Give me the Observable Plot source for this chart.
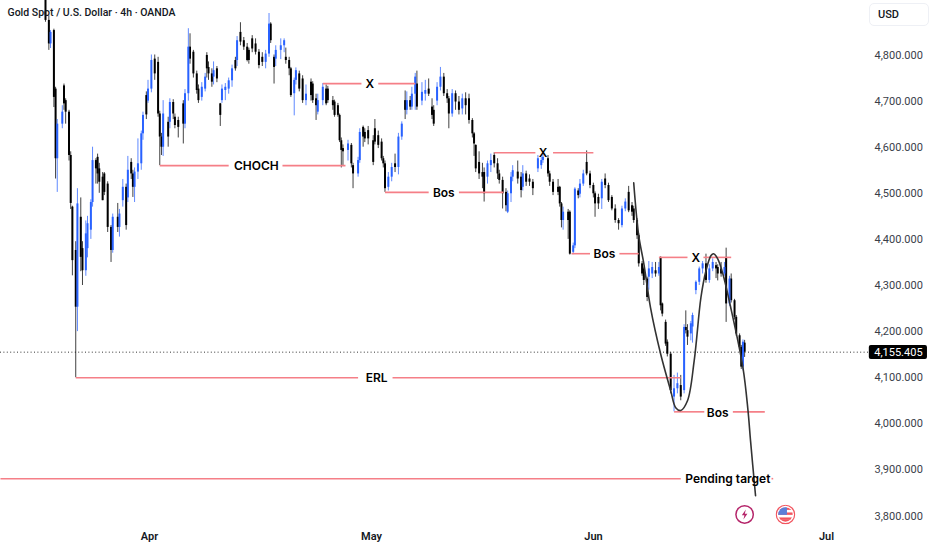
<!DOCTYPE html>
<html>
<head>
<meta charset="utf-8">
<script src="https://cdn.jsdelivr.net/npm/d3@7"></script>
<script src="https://cdn.jsdelivr.net/npm/@observablehq/plot@0.6"></script>
<style>
html,body{margin:0;padding:0;background:#fff;}
#wrap{position:relative;width:932px;height:550px;overflow:hidden;font-family:Roboto,"Noto Sans",sans-serif;}
#usd{position:absolute;left:869px;top:3px;width:50px;height:21px;padding-left:8px;border:1px solid #eef0f5;border-radius:5px;font-size:11px;line-height:21px;text-align:left;color:#131722;font-weight:500;}
svg{display:block;}
</style>
</head>
<body>
<div id="wrap"><div id="usd">USD</div></div>
<script>
const bars = [
0,2,3,5,6,7,10,11,12,14,
15,16,18,19,21,22,24,25,27,28,
30,31,32,34,35,37,39,40,43,44,
46,48,49,51,52,53,55,57,58,60,
61,63,65,67,68,69,70,73,74,76,
77,79,82,83,85,86,88,90,91,93,
95,96,97,99,100,102,104,105,107,109,
111,113,114,116,118,120,121,123,125,127,
129,131,133,134,136,137,140,142,143,145,
146,148,149,151,153,155,158,159,161,162,
165,167,168,171,172,174,175,176,177,180,
182,183,186,187,189,190,192,195,196,198,
200,201,202,204,206,208,210,212,214,215,
217,218,220,221,224,226,228,230,231,233,
235,237,239,240,242,244,246,248,250,252,
254,255,256,258,260,261,263,265,267,269,
270,272,274,275,277,278,281,283,284,286,
288,290,293,295,296,299,300,302,305,306,
307,308,311,312,314,315,317,318,320,322,
324,326,327,329,331,333,335,337,339,341,
343,345,347,349,350,352,353,355,356,358,
359,361,363,365,366,367,369,370,372,374,
376,378,380,381,382,384,385,387,389,391,
393,395,397,399,400,402,404,405,407,408,
410,411,413,414,415,416];
const opens = [
4925,4875,4824,4853,4726,4575,4650,4733,4701,4676,
4582,4470,4376,4253,4448,4380,4332,4380,4420,4480,
4571,4578,4553,4535,4542,4520,4426,4376,4448,4426,
4484,4513,4490,4567,4542,4513,4546,4564,4629,4712,
4700,4726,4791,4784,4672,4622,4600,4654,4654,4697,
4665,4658,4694,4650,4716,4817,4806,4759,4726,4708,
4726,4799,4773,4759,4752,4770,4694,4701,4723,4726,
4744,4788,4788,4849,4831,4817,4810,4835,4824,4806,
4795,4784,4802,4867,4795,4791,4810,4820,4795,4788,
4770,4716,4745,4759,4748,4701,4741,4737,4705,4676,
4701,4726,4726,4701,4698,4690,4669,4614,4597,4593,
4604,4560,4542,4571,4643,4632,4636,4614,4640,4625,
4611,4575,4564,4513,4535,4564,4556,4622,4701,4680,
4701,4687,4715,4737,4700,4715,4726,4687,4680,4700,
4730,4752,4716,4705,4672,4716,4698,4683,4705,4705,
4658,4629,4604,4567,4545,4545,4535,4560,4582,4564,
4542,4528,4502,4459,4499,4535,4546,4535,4513,4542,
4531,4524,4553,4560,4571,4575,4542,4524,4513,4513,
4477,4441,4459,4459,4372,4386,4505,4498,4520,4567,
4542,4517,4499,4491,4488,4531,4517,4491,4466,4441,
4430,4466,4502,4473,4466,4441,4408,4347,4336,4314,
4318,4325,4332,4325,4361,4260,4220,4177,4151,4058,
4076,4083,4072,4209,4202,4195,4210,4289,4307,4336,
4347,4311,4336,4343,4339,4336,4325,4361,4260,4314,
4267,4231,4191,4166,4123,4175];
const closes = [
4875,4824,4849,4708,4575,4650,4676,4694,4676,4582,
4478,4354,4253,4477,4361,4332,4412,4434,4480,4571,
4553,4542,4524,4484,4502,4426,4376,4448,4426,4455,
4513,4430,4550,4542,4513,4546,4564,4629,4669,4670,
4726,4788,4759,4672,4622,4600,4672,4622,4697,4672,
4647,4643,4650,4716,4817,4791,4759,4723,4701,4730,
4752,4770,4759,4741,4766,4748,4669,4726,4730,4744,
4770,4770,4831,4828,4817,4788,4788,4813,4806,4777,
4784,4802,4867,4831,4773,4810,4820,4831,4788,4770,
4712,4745,4766,4726,4701,4715,4712,4701,4690,4701,
4730,4694,4701,4690,4669,4669,4614,4593,4590,4607,
4564,4542,4571,4632,4622,4618,4618,4567,4611,4604,
4575,4564,4510,4535,4556,4556,4622,4650,4680,4701,
4687,4715,4752,4687,4719,4723,4715,4669,4650,4730,
4752,4716,4705,4672,4716,4698,4680,4705,4690,4658,
4629,4607,4553,4542,4535,4499,4564,4571,4564,4542,
4528,4499,4473,4499,4535,4549,4531,4506,4542,4524,
4524,4510,4575,4571,4578,4542,4524,4502,4502,4477,
4441,4459,4441,4368,4386,4509,4495,4520,4542,4542,
4517,4499,4477,4477,4524,4517,4484,4466,4441,4434,
4466,4481,4462,4459,4441,4408,4347,4325,4311,4274,
4336,4339,4325,4339,4256,4238,4173,4151,4072,4076,
4087,4058,4209,4202,4188,4217,4235,4307,4336,4347,
4311,4336,4350,4336,4325,4325,4339,4260,4314,4267,
4231,4195,4166,4123,4177,4155.405];
const highs = [
4930,4885,4853,4856,4730,4660,4690,4737,4705,4680,
4590,4472,4395,4510,4490,4395,4440,4450,4486,4600,
4575,4585,4565,4545,4545,4525,4430,4455,4478,4465,
4530,4520,4580,4575,4550,4555,4618,4635,4676,4720,
4745,4800,4800,4795,4678,4630,4701,4665,4705,4703,
4672,4665,4701,4725,4857,4846,4810,4765,4735,4740,
4760,4805,4785,4770,4785,4775,4695,4735,4738,4750,
4778,4795,4840,4870,4838,4825,4815,4842,4835,4812,
4805,4810,4890,4870,4800,4820,4835,4835,4815,4795,
4773,4750,4772,4765,4755,4735,4748,4742,4715,4715,
4738,4735,4732,4710,4702,4695,4672,4620,4605,4615,
4608,4565,4578,4640,4646,4640,4645,4625,4660,4635,
4618,4580,4570,4545,4565,4585,4630,4655,4722,4720,
4710,4730,4760,4765,4740,4745,4748,4705,4690,4740,
4773,4760,4725,4710,4725,4722,4710,4715,4718,4715,
4662,4632,4605,4590,4565,4555,4570,4585,4588,4575,
4550,4535,4510,4505,4545,4560,4570,4545,4560,4548,
4540,4530,4582,4578,4588,4582,4548,4530,4530,4515,
4480,4470,4465,4462,4392,4512,4510,4530,4550,4592,
4548,4522,4503,4498,4530,4542,4522,4495,4475,4445,
4472,4488,4515,4480,4472,4445,4412,4352,4340,4318,
4352,4350,4350,4350,4362,4262,4225,4182,4155,4105,
4110,4105,4215,4245,4215,4222,4240,4310,4340,4352,
4368,4345,4358,4350,4345,4350,4350,4381,4320,4325,
4270,4235,4195,4170,4182,4181];
const lows = [
4871,4810,4814,4686,4531,4502,4640,4680,4650,4570,
4465,4321,4100,4200,4330,4300,4320,4360,4400,4470,
4520,4520,4500,4484,4495,4415,4350,4370,4415,4405,
4470,4420,4480,4530,4491,4480,4530,4550,4615,4660,
4695,4718,4745,4665,4560,4582,4580,4600,4640,4660,
4640,4620,4607,4640,4700,4780,4750,4715,4695,4700,
4720,4750,4745,4730,4735,4740,4645,4695,4701,4715,
4730,4765,4775,4820,4810,4785,4780,4805,4800,4770,
4775,4770,4795,4825,4737,4775,4790,4805,4780,4755,
4708,4668,4735,4720,4695,4690,4700,4695,4658,4670,
4690,4690,4695,4680,4665,4665,4610,4555,4560,4570,
4555,4510,4535,4565,4600,4610,4605,4560,4605,4597,
4570,4555,4502,4505,4525,4545,4540,4615,4660,4670,
4680,4680,4680,4680,4690,4700,4710,4660,4645,4690,
4722,4710,4695,4640,4665,4680,4670,4670,4670,4650,
4620,4580,4545,4530,4510,4481,4520,4545,4555,4530,
4520,4466,4460,4456,4480,4525,4520,4490,4505,4515,
4515,4495,4545,4552,4565,4535,4515,4495,4495,4470,
4425,4420,4400,4366,4367,4380,4488,4490,4515,4538,
4510,4490,4448,4465,4465,4510,4480,4462,4435,4420,
4425,4460,4458,4450,4435,4400,4340,4320,4300,4265,
4290,4315,4318,4320,4245,4232,4168,4145,4065,4026,
4065,4050,4065,4195,4170,4180,4175,4280,4300,4325,
4305,4305,4330,4315,4310,4318,4320,4220,4255,4262,
4225,4190,4160,4118,4115,4144];

const priceTicks = [3800,3900,4000,4100,4200,4300,4400,4500,4600,4700,4800];
const monthBars = [61.9,194,326.1,464.7];
const monthLabels = ["Apr","May","Jun","Jul"];

// annotation levels: one row per red segment
const segLevels = [4560,4560,4738,4738,4502,4502,4588,4588,4369,4369,4361,4361,4100,4100,4026,4026,3881,3881];
const segStarts = [68,141,165,198,202,246,267,302,313,341.5,365,391.5,18,206.5,374,409,-26.8,432];
const segEnds   = [109,178.5,188,220,228,272.5,291.5,326,324,353,382,408,186,378,392,428,378,433];
const noteLabels = ["CHOCH","X","Bos","X","Bos","X","ERL","Bos","Pending target"];
const noteBars   = [125.5,193,237,296,332.6,387,197,400,406];
const notePrices = [4558,4736,4500,4586,4367,4359,4098,4024,3879];

// hand-drawn projection
const pathBars   = [350,353,356,360,366,372,375,378,382,386,390,393,396,397.5,400,403,407.5,415,418,419.5,422.5];
const pathPrices = [4523,4408,4348,4252,4152,4072,4035,4029,4050,4137,4274,4332,4365,4369,4358,4326,4256,4122,4029,3964,3844];

const lastPrice = 4155.405;
const lastLabel = "4,155.405";
const iconBars = [416,440.3];
const iconPrice = 3803.4;

const bolt = "data:image/svg+xml;utf8," + encodeURIComponent('<svg xmlns="http://www.w3.org/2000/svg" viewBox="0 0 20 20"><circle cx="10" cy="10" r="8.7" fill="#fff" stroke="#b5256a" stroke-width="1.5"/><path d="M11.2 5 L7.2 10.8 L9.8 10.8 L8.8 15 L12.8 9.2 L10.2 9.2 Z" fill="#b5256a"/></svg>');
const flag = "data:image/svg+xml;utf8," + encodeURIComponent('<svg xmlns="http://www.w3.org/2000/svg" viewBox="0 0 20 20"><defs><clipPath id="c"><circle cx="10" cy="10" r="7.2"/></clipPath></defs><circle cx="10" cy="10" r="9.2" fill="#fff" stroke="#f2555f" stroke-width="1.2"/><g clip-path="url(#c)"><rect width="20" height="20" fill="#fff"/><rect y="3" width="20" height="2.4" fill="#f2555f"/><rect y="8" width="20" height="2.4" fill="#f2555f"/><rect y="13" width="20" height="2.4" fill="#f2555f"/><rect y="15.4" width="20" height="4" fill="#f2555f"/><rect x="2" y="2" width="9.5" height="8.4" fill="#5b7fd9"/></g></svg>');

const idx = d3.range(bars.length);
const up = idx.filter(i => closes[i] >= opens[i]);
const down = idx.filter(i => closes[i] < opens[i]);
const BLUE = "#2962ff", BLACK = "#000000", RED = "#f57f87";
const candle = (set, color) => [
  Plot.ruleX(set, {x: i => bars[i], y1: i => lows[i], y2: i => highs[i], stroke: color, strokeWidth: 1, strokeOpacity: 0.75, clip: true}),
  Plot.ruleX(set, {x: i => bars[i], y1: i => opens[i], y2: i => closes[i], stroke: color, strokeWidth: 2, clip: true})
];

const chart = Plot.plot({
  width: 932, height: 550,
  marginLeft: 0, marginRight: 62, marginTop: 0, marginBottom: 20,
  style: {fontFamily: "Roboto, 'Noto Sans', sans-serif", background: "#fff", overflow: "visible"},
  x: {domain: [-26.775, 490.9], axis: null},
  y: {domain: [3768.6, 4918.2], axis: null},
  marks: [
    Plot.axisY(priceTicks, {anchor: "right", tickSize: 0, tickPadding: 4, fontSize: 11, fill: "#3a3e49", tickFormat: d => d3.format(",")(d) + ".000", label: null}),
    Plot.axisX(monthBars, {anchor: "bottom", tickSize: 0, tickPadding: 2, fontSize: 11, fontWeight: 600, fill: "#131722", tickFormat: (d, i) => monthLabels[i], label: null}),
    Plot.ruleY([lastPrice], {stroke: "#333", strokeDasharray: "1 2.4", strokeWidth: 1}),
    ...candle(down, BLACK),
    ...candle(up, BLUE),
    Plot.link(segLevels.map((_, i) => i), {x1: i => segStarts[i], x2: i => segEnds[i], y1: i => segLevels[i], y2: i => segLevels[i], stroke: RED, strokeWidth: 1.6}),
    Plot.line(pathBars.map((_, i) => i), {x: i => pathBars[i], y: i => pathPrices[i], stroke: "#333333", strokeWidth: 1.6, curve: "catmull-rom"}),
    Plot.text(noteLabels.map((_, i) => i), {x: i => noteBars[i], y: i => notePrices[i], text: i => noteLabels[i], fill: "#000", fontSize: 12, fontWeight: 600, fontFamily: "Inter"}),
    Plot.text(["Gold Spot / U.S. Dollar · 4h · OANDA"], {frameAnchor: "top-left", dx: 7, dy: 8.5, fontSize: 10.5, fontWeight: 500, fill: "#131722"}),
    Plot.image(iconBars, {x: d => d, y: () => iconPrice, src: (d, i) => i === 0 ? bolt : flag, width: 20, height: 20}),
    Plot.rect([lastPrice], {x1: () => 490.2, x2: () => 524.8, y1: () => 4139.5, y2: () => 4170, fill: "#000", rx: 2}),
    Plot.text([lastLabel], {x: () => 507.5, y: () => lastPrice, fill: "#fff", fontSize: 11})
  ]
});
document.getElementById("wrap").prepend(chart);
</script>
</body>
</html>
